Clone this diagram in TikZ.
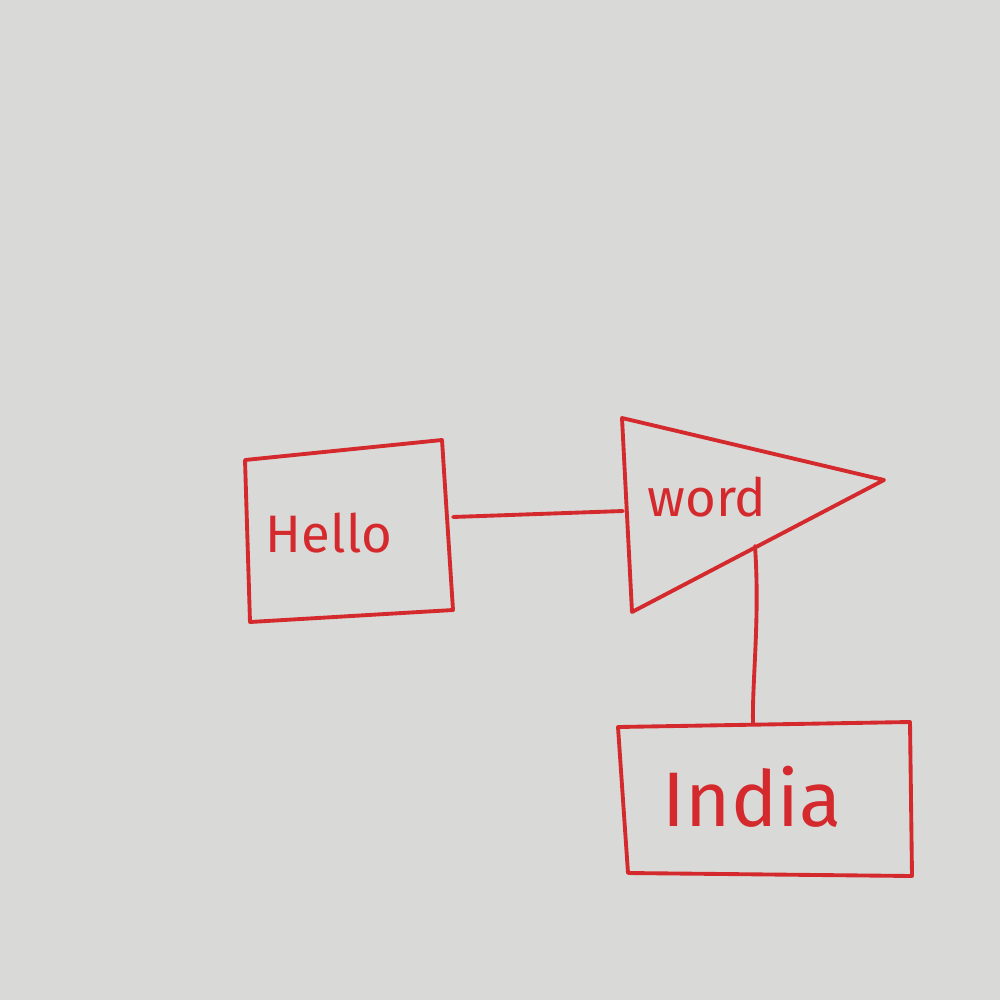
\documentclass[tikz,border=0pt]{standalone}
\usepackage{fontspec}
\setmainfont{Fira Sans}
\definecolor{paper}{HTML}{D9D9D7}
\definecolor{pen}{HTML}{D42A2E}
\begin{document}
\begin{tikzpicture}[x=0.01cm,y=-0.01cm,
  ink/.style={draw=pen,line width=1.1pt,line join=round,line cap=round},
  lbl/.style={text=pen,font=\fontsize{15}{17}\selectfont}]
\fill[paper] (0,0) rectangle (1000,1000);
\useasboundingbox (0,0) rectangle (1000,1000);
% Hello box
\coordinate (h1) at (245,460);
\coordinate (h2) at (442,440);
\coordinate (h3) at (453,610);
\coordinate (h4) at (250,622);
\draw[ink] (h1) -- (h2) -- (h3) -- (h4) -- cycle;
\node[lbl] (hello) at (329,533) {Hello};
% triangle
\coordinate (t1) at (622,418);
\coordinate (t2) at (884,480);
\coordinate (t3) at (632,612);
\draw[ink] (t1) -- (t2) -- (t3) -- cycle;
\node[lbl] (word) at (707,497) {word};
% India box
\coordinate (i1) at (618,727);
\coordinate (i2) at (910,722);
\coordinate (i3) at (912,876);
\coordinate (i4) at (628,873);
\draw[ink] (i1) -- (i2) -- (i3) -- (i4) -- cycle;
\node[lbl,font=\fontsize{22}{24}\selectfont] (india) at (752,797) {India};
% connectors
\coordinate (hR) at (453,517);
\coordinate (tL) at (623,511);
\coordinate (tB) at (755,546);
\coordinate (iT) at (753,724);
\draw[ink] (hR) -- (tL);
\draw[ink] (tB) .. controls (760,620) and (752,680) .. (iT);
\end{tikzpicture}
\end{document}
